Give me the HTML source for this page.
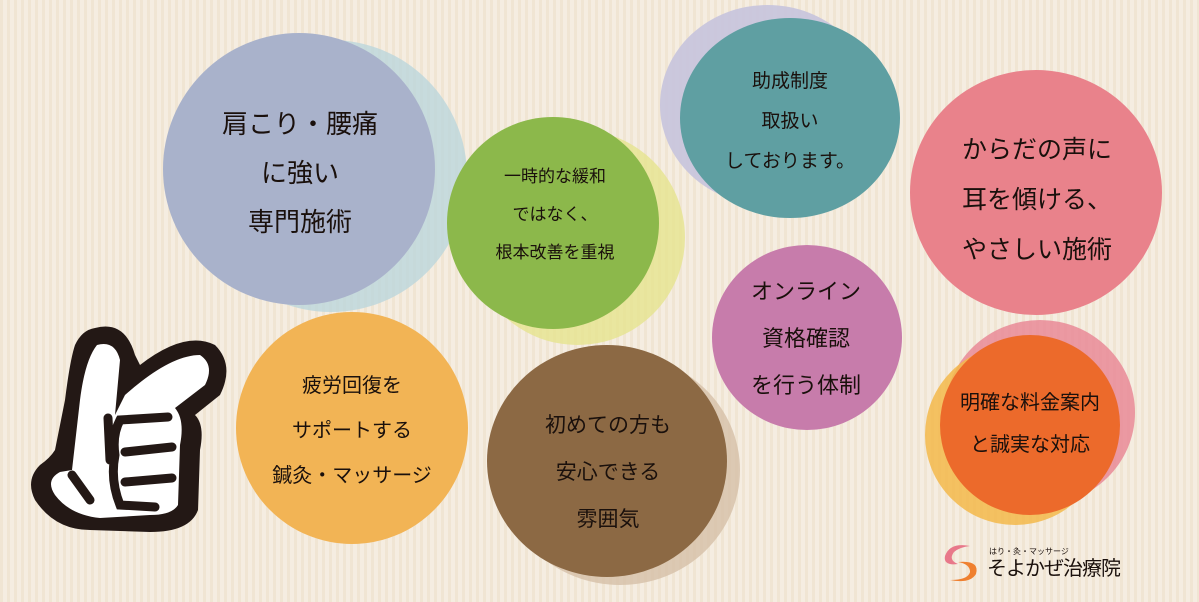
<!DOCTYPE html>
<html><head><meta charset="utf-8"><style>
html,body{margin:0;padding:0}
body{width:1199px;height:602px;overflow:hidden;position:relative;background:#f5ede1;
background-image:repeating-linear-gradient(90deg,rgba(235,222,200,.55) 0 3px,transparent 3px 7px);
font-family:"Liberation Sans","Noto Sans CJK JP",sans-serif;color:#1a100c}
.c{position:absolute;border-radius:50%}
.t{position:absolute;text-align:center;transform:translateX(-50%);white-space:nowrap}
</style></head><body>
<div class="c" style="left:195px;top:40px;width:272px;height:272px;background:#bcd6dc;opacity:.8"></div>
<div class="c" style="left:163px;top:33px;width:272px;height:272px;background:#a9b2cb"></div>
<div class="t" style="left:300px;top:100px;font-size:26px;line-height:49px">肩こり・腰痛<br>に強い<br>専門施術</div>
<div class="c" style="left:470px;top:130px;width:215px;height:215px;background:#e6e48f;opacity:.8"></div>
<div class="c" style="left:447px;top:117px;width:212px;height:212px;background:#8cb84b"></div>
<div class="t" style="left:555px;top:158px;font-size:17px;line-height:38px">一時的な緩和<br>ではなく、<br>根本改善を重視</div>
<div class="c" style="left:660px;top:5px;width:215px;height:200px;background:#c7c3dd;opacity:.9"></div>
<div class="c" style="left:680px;top:18px;width:220px;height:200px;background:#5f9fa2"></div>
<div class="t" style="left:790px;top:62px;font-size:19px;line-height:40px">助成制度<br>取扱い<br>しております。</div>
<div class="c" style="left:910px;top:70px;width:252px;height:245px;background:#e9828b"></div>
<div class="t" style="left:1037px;top:125px;font-size:25px;line-height:50px">からだの声に<br>耳を傾ける、<br>やさしい施術</div>
<div class="c" style="left:712px;top:245px;width:190px;height:185px;background:#c77cab"></div>
<div class="t" style="left:806px;top:268px;font-size:22px;line-height:47px">オンライン<br>資格確認<br>を行う体制</div>
<div class="c" style="left:945px;top:320px;width:190px;height:185px;background:#e98a96;opacity:.85"></div>
<div class="c" style="left:925px;top:345px;width:180px;height:180px;background:#f3b84a;opacity:.85"></div>
<div class="c" style="left:940px;top:335px;width:180px;height:180px;background:#ec6a2b"></div>
<div class="t" style="left:1030px;top:382px;font-size:20px;line-height:42px">明確な料金案内<br>と誠実な対応</div>
<div class="c" style="left:236px;top:312px;width:232px;height:232px;background:#f2b455"></div>
<div class="t" style="left:352px;top:364px;font-size:20px;line-height:45px">疲労回復を<br>サポートする<br>鍼灸・マッサージ</div>
<div class="c" style="left:500px;top:355px;width:240px;height:230px;background:#d6bfa8;opacity:.8"></div>
<div class="c" style="left:487px;top:345px;width:240px;height:232px;background:#8c6944"></div>
<div class="t" style="left:608px;top:402px;font-size:21px;line-height:47px">初めての方も<br>安心できる<br>雰囲気</div>
<svg style="position:absolute;left:0;top:300px" width="260" height="240" viewBox="0 0 260 240">
<path d="M95 28 Q125 20 135 55 L140 65 Q185 30 215 45 Q235 65 220 95 L195 115 Q205 125 200 150 L198 210 Q190 232 150 232 L90 230 Q55 230 35 200 Q25 180 40 165 Q50 158 55 150 L65 100 Q70 60 75 45 Q82 30 95 28Z" fill="#231815"/>
<path d="M97 45 Q115 40 120 60 L115 115 L125 95 Q170 55 200 55 Q215 65 205 85 L175 108 Q185 120 180 145 L178 205 Q172 215 150 215 L100 218 Q70 215 55 195 Q45 180 60 172 L72 170 L80 100 Q85 60 97 45Z" fill="#fff"/>
<g stroke="#231815" stroke-width="9" fill="none" stroke-linecap="round">
<path d="M168 117 L120 120 Q112 135 115 155 M172 147 L125 152 M172 178 L125 182 M115 155 Q110 180 120 205 L155 207 M72 175 L90 200 M108 118 L110 160"/>
</g>
</svg>
<svg style="position:absolute;left:940px;top:542px" width="48" height="42" viewBox="0 0 48 42">
<path d="M30 4 Q10 0 5 14 Q3 24 18 22 Q8 18 14 10 Q20 5 30 4Z" fill="#e8788a"/>
<path d="M18 20 Q40 18 36 32 Q30 42 10 38 Q28 38 30 30 Q30 22 18 20Z" fill="#ef8030"/>
</svg>
<div style="position:absolute;left:989px;top:546px;font-size:8px">はり・灸・マッサージ</div>
<div style="position:absolute;left:987px;top:557px;font-size:20px;line-height:24px;letter-spacing:-1px">そよかぜ治療院</div>
</body></html>
